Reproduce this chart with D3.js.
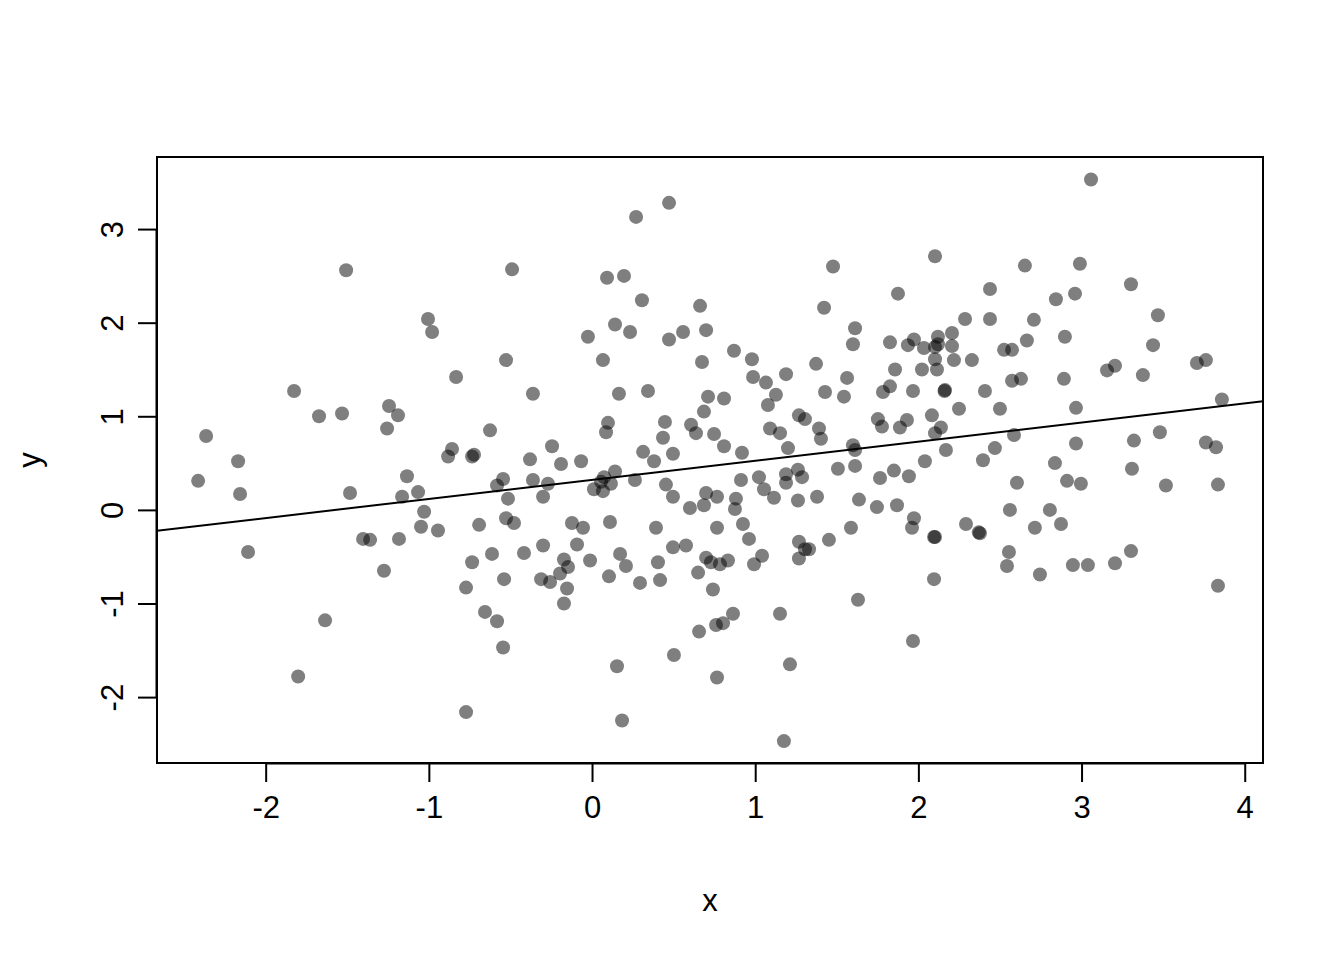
<!DOCTYPE html>
<html>
<head>
<meta charset="utf-8">
<script src="https://cdn.jsdelivr.net/npm/d3@7"></script>
<style>
html,body{margin:0;padding:0;background:#fff;}
svg{display:block;}
text{font-family:"Liberation Sans",Arial,Helvetica,sans-serif;fill:#000;}
</style>
</head>
<body>
<svg id="chart" width="1344" height="960"></svg>
<script>
// ---- data ----
const xValues = [
-2.414,-2.365,-2.169,-2.157,-2.108,-1.826,-1.801,-1.673,-1.636,-1.532,-1.507,-1.483,-1.403,-1.360,-1.275,-1.256,-1.244,-1.189,-1.183,-1.164,-1.134,-1.066,-1.048,-1.029,-1.005,-0.980,-0.944,
0.472,0.270,-0.490,0.092,0.196,0.306,0.662,0.141,0.233,-0.025,0.472,0.558,0.699,-0.527,0.067,0.674,
-0.833,-0.362,0.165,0.343,0.711,0.686,-0.625,0.098,0.086,0.447,0.435,0.607,0.637,0.748,-0.858,-0.882,-0.735,-0.723,-0.245,-0.380,-0.190,-0.067,0.313,0.380,0.496,
-0.545,-0.582,-0.362,-0.270,-0.300,-0.515,0.074,0.141,0.116,0.012,0.067,0.055,0.263,0.453,0.496,0.699,0.686,0.600,0.766,
-0.692,-0.527,-0.478,-0.123,-0.055,0.110,0.392,0.766,-0.613,-0.735,-0.417,-0.300,-0.092,-0.172,-0.147,-0.196,-0.012,0.172,0.208,0.404,0.496,0.576,0.699,0.729,0.784,0.833,
-0.772,-0.539,-0.312,-0.257,-0.153,-0.172,0.104,0.294,0.417,0.650,0.741,-0.656,-0.582,-0.545,0.153,0.502,0.656,0.760,0.803,0.864,0.766,-0.772,0.184,
1.152,1.630,2.096,1.967,1.213,1.176,
2.543,2.745,2.947,3.039,3.205,3.836,
0.980,0.987,1.373,1.189,1.066,1.563,1.857,2.022,2.114,2.218,2.328,0.809,1.127,1.078,1.428,1.544,1.783,1.826,1.967,2.163,2.160,2.408,
1.268,1.305,1.752,1.777,1.930,1.887,2.083,2.249,2.500,1.091,1.152,1.391,1.403,2.138,2.102,0.809,0.919,1.201,1.599,1.612,2.169,2.469,2.396,2.040,
1.507,1.612,1.765,1.850,1.942,0.913,1.023,1.189,1.262,1.287,1.189,1.054,1.115,0.882,0.876,1.262,1.379,1.636,1.746,1.869,1.973,1.961,2.292,2.377,2.370,2.102,2.096,
0.925,0.962,1.268,1.305,1.330,1.452,1.587,1.042,0.993,1.268,
2.102,1.477,1.875,1.422,2.439,2.286,2.439,1.612,1.599,1.826,1.973,1.936,2.034,2.120,2.206,2.102,2.120,2.206,0.870,2.102,
3.058,2.653,2.990,3.303,2.843,2.960,3.468,2.708,2.665,2.898,3.438,2.525,2.574,3.762,3.707,3.205,3.156,
3.376,2.574,2.629,2.892,2.966,3.860,2.586,2.966,3.321,3.480,3.762,3.824,2.837,3.309,2.604,2.911,2.996,3.517,3.836,2.561,2.806,2.874,2.714,2.555,3.303
];
const yValues = [
0.31,0.79,0.52,0.17,-0.45,1.27,-1.78,1.00,-1.18,1.03,2.56,0.18,-0.31,-0.32,-0.65,0.87,1.11,1.01,-0.31,0.14,0.36,0.19,-0.18,-0.02,2.04,1.90,-0.22,
3.28,3.13,2.57,2.48,2.50,2.24,2.18,1.98,1.90,1.85,1.82,1.90,1.92,1.60,1.60,1.58,
1.42,1.24,1.24,1.27,1.21,1.05,0.85,0.93,0.83,0.94,0.77,0.91,0.82,0.81,0.65,0.57,0.57,0.59,0.68,0.54,0.49,0.52,0.62,0.52,0.60,
0.33,0.26,0.32,0.28,0.14,0.12,0.35,0.41,0.28,0.22,0.20,0.30,0.32,0.27,0.14,0.18,0.05,0.02,0.14,
-0.16,-0.09,-0.14,-0.14,-0.19,-0.13,-0.19,-0.19,-0.47,-0.56,-0.46,-0.38,-0.37,-0.53,-0.61,-0.68,-0.54,-0.47,-0.60,-0.56,-0.40,-0.38,-0.51,-0.56,-0.58,-0.54,
-0.83,-0.74,-0.74,-0.77,-0.84,-1.00,-0.71,-0.78,-0.75,-0.67,-0.85,-1.09,-1.19,-1.47,-1.67,-1.55,-1.30,-1.23,-1.21,-1.11,-1.79,-2.16,-2.25,
-1.11,-0.96,-0.74,-1.40,-1.65,-2.47,
-0.60,-0.69,-0.59,-0.59,-0.57,-0.81,
1.61,1.42,1.56,1.45,1.36,1.41,1.50,1.50,1.50,1.60,1.60,1.19,1.23,1.12,1.26,1.21,1.26,1.32,1.27,1.28,1.27,1.27,
1.01,0.97,0.97,0.89,0.96,0.88,1.01,1.08,1.08,0.87,0.82,0.87,0.76,0.88,0.82,0.68,0.61,0.66,0.69,0.64,0.64,0.66,0.53,0.52,
0.44,0.47,0.34,0.42,0.36,0.32,0.35,0.38,0.43,0.35,0.29,0.22,0.13,0.12,0.01,0.10,0.14,0.11,0.03,0.05,-0.09,-0.19,-0.15,-0.25,-0.24,-0.29,-0.29,
-0.15,-0.31,-0.34,-0.42,-0.42,-0.32,-0.19,-0.49,-0.58,-0.52,
2.71,2.60,2.31,2.16,2.36,2.04,2.04,1.94,1.77,1.79,1.82,1.76,1.73,1.85,1.89,1.74,1.77,1.75,1.70,1.61,
3.53,2.61,2.63,2.41,2.25,2.31,2.08,2.03,1.81,1.85,1.76,1.71,1.71,1.60,1.57,1.54,1.49,
1.44,1.38,1.40,1.40,1.09,1.18,0.80,0.71,0.74,0.83,0.72,0.67,0.50,0.44,0.29,0.31,0.28,0.26,0.27,0.00,0.00,-0.15,-0.19,-0.45,-0.44
];
const xTicks = [-2, -1, 0, 1, 2, 3, 4];
const yTicks = [-2, -1, 0, 1, 2, 3];
const xDomain = [-2.666, 4.112];
const yDomain = [-2.704, 3.770];
const fitIntercept = 0.321;
const fitSlope = 0.204;
const xLabel = "x";
const yLabel = "y";

// ---- drawing ----
const W = 1344, H = 960;
const plot = {left: 157, right: 1263, top: 157, bottom: 763};
const svg = d3.select("#chart");

const x = d3.scaleLinear().domain(xDomain).range([plot.left, plot.right]);
const y = d3.scaleLinear().domain(yDomain).range([plot.bottom, plot.top]);

svg.append("defs").append("clipPath").attr("id", "clip")
  .append("rect").attr("x", plot.left).attr("y", plot.top)
  .attr("width", plot.right - plot.left).attr("height", plot.bottom - plot.top);

const points = xValues.map((v, i) => ({x: v, y: yValues[i]}));

svg.append("g").attr("clip-path", "url(#clip)")
  .selectAll("circle").data(points).join("circle")
  .attr("cx", d => x(d.x)).attr("cy", d => y(d.y)).attr("r", 7)
  .attr("fill", "rgba(0,0,0,0.5)");

// regression line (abline)
svg.append("line").attr("clip-path", "url(#clip)")
  .attr("x1", x(xDomain[0])).attr("y1", y(fitIntercept + fitSlope * xDomain[0]))
  .attr("x2", x(xDomain[1])).attr("y2", y(fitIntercept + fitSlope * xDomain[1]))
  .attr("stroke", "#000").attr("stroke-width", 2);

// box
svg.append("rect").attr("x", plot.left).attr("y", plot.top)
  .attr("width", plot.right - plot.left).attr("height", plot.bottom - plot.top)
  .attr("fill", "none").attr("stroke", "#000").attr("stroke-width", 2);

// x axis
const xAxis = d3.axisBottom(x).tickValues(xTicks).tickSize(19).tickPadding(14)
  .tickFormat(d3.format("d"));
const gx = svg.append("g").attr("transform", `translate(0,${plot.bottom})`).call(xAxis);
gx.select(".domain").attr("d", `M${x(xTicks[0])},0.5H${x(xTicks[xTicks.length-1])}`)
  .attr("stroke-width", 2);
gx.selectAll(".tick line").attr("stroke-width", 2);
gx.selectAll(".tick text").attr("font-size", 31).attr("font-family", "Liberation Sans, Arial, sans-serif")
  .text(d => d < 0 ? "-" + Math.abs(d) : String(d));

// y axis
const yAxis = d3.axisLeft(y).tickValues(yTicks).tickSize(19).tickPadding(14)
  .tickFormat(d3.format("d"));
const gy = svg.append("g").attr("transform", `translate(${plot.left},0)`).call(yAxis);
gy.select(".domain").attr("d", `M-0.5,${y(yTicks[0])}V${y(yTicks[yTicks.length-1])}`)
  .attr("stroke-width", 2);
gy.selectAll(".tick line").attr("stroke-width", 2);
gy.selectAll(".tick text")
  .attr("font-size", 31).attr("font-family", "Liberation Sans, Arial, sans-serif")
  .attr("x", null).attr("dy", null)
  .attr("text-anchor", "middle")
  .attr("transform", "translate(-45,0) rotate(-90)")
  .attr("y", 0)
  .attr("dy", "0.35em")
  .text(d => d < 0 ? "-" + Math.abs(d) : String(d));

// axis titles
svg.append("text").attr("x", (plot.left + plot.right) / 2).attr("y", 911)
  .attr("text-anchor", "middle").attr("font-size", 31).text(xLabel);
svg.append("text")
  .attr("transform", `translate(40,${(plot.top + plot.bottom) / 2}) rotate(-90)`)
  .attr("text-anchor", "middle").attr("font-size", 31).text(yLabel);
</script>
</body>
</html>
